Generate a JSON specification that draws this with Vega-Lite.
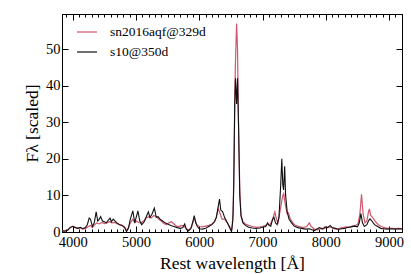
{
  "$schema": "https://vega.github.io/schema/vega-lite/v6.json",
  "width": 340,
  "height": 218,
  "autosize": {"type": "none"},
  "padding": {"left": 62, "top": 14, "right": 9, "bottom": 42},
  "background": "white",
  "config": {
    "font": "Liberation Serif",
    "view": {"stroke": "black", "strokeWidth": 1},
    "axis": {"domainColor": "black", "tickColor": "black", "labelColor": "black", "titleColor": "black", "grid": false, "labelFont": "Liberation Serif", "titleFont": "Liberation Serif", "titleFontWeight": "normal", "labelFontSize": 14.5, "titleFontSize": 17.5},
    "legend": {"labelFont": "Liberation Serif", "labelFontSize": 13.5, "labelColor": "black"}
  },
  "datasets": {
    "black": [
      {"w":3830,"f":0.3},{"w":3870,"f":0.2},{"w":3920,"f":0.5},{"w":3960,"f":1.2},{"w":4000,"f":1.5},{"w":4040,"f":1.2},{"w":4080,"f":1.0},{"w":4120,"f":1.3},{"w":4160,"f":0.9},{"w":4200,"f":1.2},{"w":4230,"f":2.0},{"w":4260,"f":3.8},{"w":4280,"f":3.5},{"w":4310,"f":1.5},{"w":4340,"f":2.5},{"w":4370,"f":5.5},{"w":4395,"f":3.0},{"w":4420,"f":3.5},{"w":4440,"f":4.2},{"w":4470,"f":3.0},{"w":4500,"f":2.8},{"w":4530,"f":2.5},{"w":4560,"f":3.2},{"w":4590,"f":3.8},{"w":4610,"f":2.8},{"w":4640,"f":3.5},{"w":4670,"f":3.0},{"w":4700,"f":2.5},{"w":4740,"f":2.0},{"w":4780,"f":1.8},{"w":4820,"f":1.2},{"w":4850,"f":0.1},{"w":4880,"f":1.0},{"w":4910,"f":3.5},{"w":4950,"f":5.8},{"w":4980,"f":2.5},{"w":5010,"f":4.5},{"w":5030,"f":5.8},{"w":5060,"f":3.0},{"w":5090,"f":2.0},{"w":5130,"f":2.8},{"w":5170,"f":4.5},{"w":5195,"f":5.5},{"w":5220,"f":4.0},{"w":5250,"f":4.8},{"w":5290,"f":6.5},{"w":5320,"f":4.0},{"w":5350,"f":4.2},{"w":5380,"f":3.5},{"w":5420,"f":3.0},{"w":5460,"f":2.5},{"w":5500,"f":2.2},{"w":5550,"f":1.8},{"w":5600,"f":1.5},{"w":5650,"f":1.2},{"w":5700,"f":1.0},{"w":5740,"f":1.2},{"w":5770,"f":2.2},{"w":5795,"f":0.8},{"w":5830,"f":0.3},{"w":5870,"f":1.0},{"w":5900,"f":3.0},{"w":5920,"f":4.5},{"w":5945,"f":2.5},{"w":5970,"f":1.5},{"w":6000,"f":0.9},{"w":6050,"f":0.8},{"w":6100,"f":1.0},{"w":6150,"f":1.5},{"w":6200,"f":2.0},{"w":6240,"f":2.8},{"w":6270,"f":4.0},{"w":6300,"f":7.0},{"w":6320,"f":9.0},{"w":6340,"f":6.0},{"w":6370,"f":5.5},{"w":6400,"f":4.0},{"w":6430,"f":3.0},{"w":6460,"f":2.0},{"w":6490,"f":0.8},{"w":6510,"f":0.1},{"w":6530,"f":3.0},{"w":6545,"f":12.0},{"w":6560,"f":35.0},{"w":6572,"f":42.0},{"w":6590,"f":35.0},{"w":6605,"f":42.0},{"w":6620,"f":30.0},{"w":6640,"f":10.0},{"w":6660,"f":4.5},{"w":6690,"f":2.5},{"w":6730,"f":1.8},{"w":6780,"f":1.3},{"w":6840,"f":1.1},{"w":6900,"f":1.0},{"w":6960,"f":1.1},{"w":7000,"f":1.3},{"w":7050,"f":1.5},{"w":7080,"f":2.5},{"w":7100,"f":1.8},{"w":7130,"f":1.6},{"w":7160,"f":3.5},{"w":7180,"f":4.0},{"w":7205,"f":2.5},{"w":7230,"f":2.0},{"w":7260,"f":4.0},{"w":7285,"f":12.0},{"w":7305,"f":20.0},{"w":7320,"f":13.0},{"w":7333,"f":11.5},{"w":7350,"f":18.0},{"w":7365,"f":10.0},{"w":7390,"f":5.5},{"w":7420,"f":3.5},{"w":7460,"f":2.5},{"w":7500,"f":1.6},{"w":7560,"f":1.2},{"w":7620,"f":1.0},{"w":7680,"f":0.8},{"w":7740,"f":0.9},{"w":7780,"f":0.6},{"w":7820,"f":0.4},{"w":7860,"f":0.8},{"w":7900,"f":1.2},{"w":7950,"f":0.8},{"w":7990,"f":1.4},{"w":8030,"f":1.2},{"w":8070,"f":1.8},{"w":8100,"f":1.2},{"w":8150,"f":1.0},{"w":8200,"f":0.7},{"w":8250,"f":0.9},{"w":8300,"f":1.0},{"w":8350,"f":1.3},{"w":8400,"f":1.4},{"w":8450,"f":1.6},{"w":8500,"f":1.4},{"w":8530,"f":2.5},{"w":8555,"f":5.0},{"w":8580,"f":2.5},{"w":8610,"f":1.5},{"w":8650,"f":2.0},{"w":8680,"f":3.2},{"w":8700,"f":3.6},{"w":8730,"f":3.0},{"w":8770,"f":2.0},{"w":8820,"f":1.5},{"w":8870,"f":1.0},{"w":8920,"f":0.9},{"w":8970,"f":0.8},{"w":9030,"f":0.9},{"w":9100,"f":0.8},{"w":9150,"f":0.9},{"w":9205,"f":0.8}
    ],
    "red": [
      {"w":3830,"f":0.4},{"w":3870,"f":0.3},{"w":3920,"f":0.6},{"w":3960,"f":1.3},{"w":4000,"f":1.6},{"w":4040,"f":1.3},{"w":4080,"f":1.0},{"w":4120,"f":1.1},{"w":4160,"f":0.8},{"w":4200,"f":1.0},{"w":4250,"f":1.5},{"w":4280,"f":1.8},{"w":4310,"f":1.2},{"w":4350,"f":2.0},{"w":4380,"f":2.5},{"w":4420,"f":2.2},{"w":4460,"f":2.6},{"w":4500,"f":2.3},{"w":4540,"f":2.5},{"w":4580,"f":2.8},{"w":4620,"f":2.5},{"w":4660,"f":2.6},{"w":4700,"f":2.3},{"w":4740,"f":2.0},{"w":4780,"f":1.8},{"w":4820,"f":1.3},{"w":4850,"f":0.5},{"w":4880,"f":1.2},{"w":4910,"f":2.5},{"w":4950,"f":3.5},{"w":4980,"f":2.5},{"w":5010,"f":3.0},{"w":5040,"f":2.6},{"w":5080,"f":2.5},{"w":5120,"f":3.0},{"w":5160,"f":3.8},{"w":5200,"f":4.2},{"w":5240,"f":3.8},{"w":5280,"f":4.5},{"w":5320,"f":4.2},{"w":5360,"f":3.5},{"w":5400,"f":3.0},{"w":5440,"f":2.3},{"w":5480,"f":2.0},{"w":5520,"f":2.5},{"w":5560,"f":2.8},{"w":5600,"f":2.2},{"w":5640,"f":1.6},{"w":5680,"f":1.5},{"w":5720,"f":1.8},{"w":5760,"f":1.6},{"w":5800,"f":0.8},{"w":5840,"f":0.6},{"w":5880,"f":1.5},{"w":5910,"f":3.2},{"w":5930,"f":3.5},{"w":5960,"f":2.0},{"w":6000,"f":1.5},{"w":6050,"f":1.4},{"w":6100,"f":1.6},{"w":6150,"f":1.8},{"w":6200,"f":2.2},{"w":6240,"f":2.8},{"w":6270,"f":4.0},{"w":6300,"f":6.5},{"w":6330,"f":5.0},{"w":6360,"f":3.5},{"w":6400,"f":3.5},{"w":6430,"f":2.8},{"w":6460,"f":2.0},{"w":6490,"f":1.2},{"w":6515,"f":0.8},{"w":6535,"f":5.0},{"w":6550,"f":20.0},{"w":6570,"f":45.0},{"w":6590,"f":57.0},{"w":6605,"f":50.0},{"w":6620,"f":30.0},{"w":6640,"f":12.0},{"w":6660,"f":4.5},{"w":6690,"f":2.8},{"w":6730,"f":2.2},{"w":6780,"f":1.8},{"w":6840,"f":1.5},{"w":6900,"f":1.3},{"w":6960,"f":1.4},{"w":7000,"f":1.5},{"w":7050,"f":1.8},{"w":7080,"f":2.2},{"w":7120,"f":2.0},{"w":7160,"f":3.5},{"w":7195,"f":5.5},{"w":7220,"f":3.5},{"w":7245,"f":2.5},{"w":7270,"f":5.0},{"w":7300,"f":8.0},{"w":7320,"f":10.0},{"w":7335,"f":10.5},{"w":7360,"f":7.5},{"w":7390,"f":5.0},{"w":7410,"f":5.2},{"w":7440,"f":3.5},{"w":7480,"f":2.5},{"w":7520,"f":1.8},{"w":7580,"f":1.5},{"w":7640,"f":1.2},{"w":7700,"f":1.5},{"w":7740,"f":2.5},{"w":7770,"f":1.5},{"w":7820,"f":0.8},{"w":7870,"f":0.6},{"w":7920,"f":1.0},{"w":7970,"f":0.9},{"w":8020,"f":1.3},{"w":8070,"f":1.4},{"w":8120,"f":1.0},{"w":8170,"f":0.8},{"w":8220,"f":1.0},{"w":8270,"f":1.2},{"w":8320,"f":1.4},{"w":8370,"f":1.2},{"w":8420,"f":1.6},{"w":8470,"f":1.8},{"w":8510,"f":2.2},{"w":8540,"f":5.0},{"w":8565,"f":10.3},{"w":8590,"f":5.0},{"w":8620,"f":2.5},{"w":8650,"f":3.0},{"w":8675,"f":5.5},{"w":8690,"f":6.3},{"w":8710,"f":4.5},{"w":8740,"f":4.0},{"w":8780,"f":3.0},{"w":8830,"f":2.0},{"w":8880,"f":1.5},{"w":8930,"f":1.2},{"w":8980,"f":1.0},{"w":9040,"f":1.0},{"w":9100,"f":0.9},{"w":9150,"f":1.0},{"w":9205,"f":0.9}
    ]
  },
  "layer": [
    {
      "data": {"name": "red"},
      "mark": {"type": "line", "strokeWidth": 1.2, "clip": true},
      "encoding": {
        "x": {"field": "w", "type": "quantitative", "scale": {"domain": [3830, 9205], "nice": false, "zero": false},
          "axis": {"orient": "bottom", "title": "Rest wavelength [Å]", "format": "d", "labelFont": "Liberation Serif", "titleFont": "Liberation Serif", "values": [3900,4000,4100,4200,4300,4400,4500,4600,4700,4800,4900,5000,5100,5200,5300,5400,5500,5600,5700,5800,5900,6000,6100,6200,6300,6400,6500,6600,6700,6800,6900,7000,7100,7200,7300,7400,7500,7600,7700,7800,7900,8000,8100,8200,8300,8400,8500,8600,8700,8800,8900,9000,9100,9200],
            "labelExpr": "datum.value % 1000 === 0 ? datum.label : ''", "labelOverlap": false, "labelFlush": false, "labelBound": false,
            "tickSize": {"condition": {"test": "datum.value % 1000 === 0", "value": -6}, "value": -3}, "labelPadding": 9, "titlePadding": 3}},
        "y": {"field": "f", "type": "quantitative", "scale": {"domain": [0, 59.6], "nice": false},
          "axis": {"orient": "left", "title": "Fλ [scaled]", "labelFont": "Liberation Serif", "titleFont": "Liberation Serif", "values": [0,10,20,30,40,50], "format": "d", "tickSize": -6, "labelPadding": 8, "titlePadding": 4}},
        "color": {"datum": "sn2016aqf@329d", "type": "nominal",
          "scale": {"domain": ["sn2016aqf@329d", "s10@350d"], "range": ["#cf566c", "#111111"]},
          "legend": {"orient": "none", "legendX": 14, "legendY": 7, "title": null, "symbolType": "stroke", "symbolSize": 400, "symbolStrokeWidth": 1.2, "labelFontSize": 13.5, "labelFont": "Liberation Serif", "labelColor": "black", "rowPadding": 2, "labelOffset": 12}}
      }
    },
    {
      "data": {"name": "black"},
      "mark": {"type": "line", "strokeWidth": 1.1, "clip": true},
      "encoding": {
        "x": {"field": "w", "type": "quantitative", "scale": {"domain": [3830, 9205], "nice": false, "zero": false},
          "axis": {"orient": "top", "title": null, "labels": false, "values": [3900,4000,4100,4200,4300,4400,4500,4600,4700,4800,4900,5000,5100,5200,5300,5400,5500,5600,5700,5800,5900,6000,6100,6200,6300,6400,6500,6600,6700,6800,6900,7000,7100,7200,7300,7400,7500,7600,7700,7800,7900,8000,8100,8200,8300,8400,8500,8600,8700,8800,8900,9000,9100,9200],
            "tickSize": {"condition": {"test": "datum.value % 1000 === 0", "value": -6}, "value": -3}}},
        "y": {"field": "f", "type": "quantitative", "scale": {"domain": [0, 59.6], "nice": false},
          "axis": {"orient": "right", "title": null, "labels": false, "values": [0,10,20,30,40,50], "tickSize": -6}},
        "color": {"datum": "s10@350d", "type": "nominal"}
      }
    }
  ],
  "resolve": {"axis": {"x": "independent", "y": "independent"}}
}
